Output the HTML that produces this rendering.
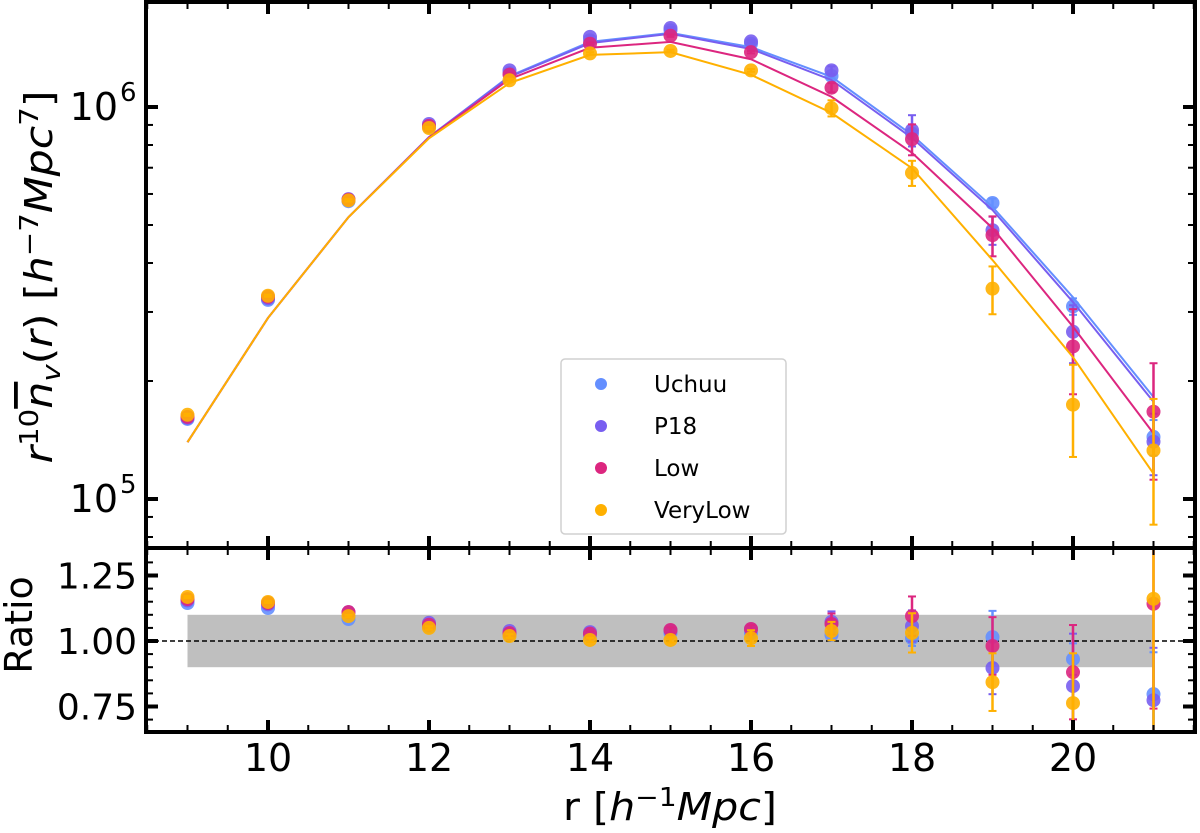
<!DOCTYPE html>
<html><head><meta charset="utf-8"><style>
html,body{margin:0;padding:0;background:#fff;}
svg{display:block;font-family:"DejaVu Sans","Liberation Sans",sans-serif;}
</style></head><body>
<svg id="chart" width="1200" height="833" viewBox="0 0 1200 833" xmlns="http://www.w3.org/2000/svg">
<defs>
<clipPath id="clipTop"><rect x="146" y="2" width="1049" height="546"/></clipPath>
<clipPath id="clipBot"><rect x="146" y="548" width="1049" height="184"/></clipPath>
</defs>
<g id="topPanel"></g>
<g id="botPanel"></g>
<g id="axes"></g>
<text transform="translate(52,277) rotate(-90)" text-anchor="middle" font-size="38" textLength="373" lengthAdjust="spacingAndGlyphs"><tspan font-style="italic">r</tspan><tspan font-size="26" dy="-14">10</tspan><tspan font-style="italic" dy="14" text-decoration="overline">n</tspan><tspan font-style="italic" font-size="26" dy="8">v</tspan><tspan dy="-8">(</tspan><tspan font-style="italic">r</tspan><tspan>) [</tspan><tspan font-style="italic">h</tspan><tspan font-size="26" dy="-14">−7</tspan><tspan font-style="italic" dy="14">Mpc</tspan><tspan font-size="26" dy="-14">7</tspan><tspan dy="14">]</tspan></text>
<text transform="translate(32,625) rotate(-90)" text-anchor="middle" font-size="38">Ratio</text>
<text x="670" y="820" text-anchor="middle" font-size="38" textLength="214" lengthAdjust="spacingAndGlyphs">r [<tspan font-style="italic">h</tspan><tspan font-size="26" dy="-14">−1</tspan><tspan font-style="italic" dy="14">Mpc</tspan>]</text>
<g>
<rect x="561" y="359" width="225" height="175" rx="4" fill="#fff" fill-opacity="0.8" stroke="#d0d0d0" stroke-width="1.5"/>
<circle cx="601" cy="384" r="6" fill="#648FFF"/>
<text x="654" y="392" font-size="23">Uchuu</text>
<circle cx="601" cy="426" r="6" fill="#785EF0"/>
<text x="654" y="434" font-size="23">P18</text>
<circle cx="601" cy="468" r="6" fill="#DC267F"/>
<text x="654" y="476" font-size="23">Low</text>
<circle cx="601" cy="510" r="6" fill="#FFB000"/>
<text x="654" y="518" font-size="23">VeryLow</text>
</g>
</svg>
<script>
const radii = [9,10,11,12,13,14,15,16,17,18,19,20,21];
const seriesNames = ['Uchuu','P18','Low','VeryLow'];
const seriesColors = ['#648FFF','#785EF0','#DC267F','#FFB000'];
const uchuuPts = [1.60e5,3.22e5,5.75e5,8.9e5,1.22e6,1.48e6,1.57e6,1.45e6,1.20e6,8.55e5,5.69e5,3.10e5,1.44e5];
const p18Pts   = [1.61e5,3.25e5,5.82e5,9.05e5,1.24e6,1.51e6,1.59e6,1.47e6,1.24e6,8.73e5,4.85e5,2.67e5,1.40e5];
const lowPts   = [1.62e5,3.28e5,5.80e5,8.95e5,1.21e6,1.45e6,1.52e6,1.38e6,1.12e6,8.28e5,4.71e5,2.45e5,1.67e5];
const vlowPts  = [1.64e5,3.30e5,5.78e5,8.84e5,1.17e6,1.37e6,1.39e6,1.24e6,9.93e5,6.79e5,3.44e5,1.74e5,1.33e5];
const uchuuErr = [1e3,2e3,4e3,6e3,1e4,1e4,1e4,1e4,1.5e4,2.5e4,1.5e4,1.5e4,1.5e4];
const p18Err   = [1e3,2e3,4e3,6e3,1e4,1e4,1e4,1e4,3e4,8e4,4e4,4.5e4,2.5e4];
const lowErr   = [1e3,2e3,4e3,6e3,1e4,1e4,1e4,1e4,3e4,7.5e4,5.5e4,6e4,5.5e4];
const vlowErr  = [1e3,2e3,4e3,6e3,1e4,1e4,1e4,1e4,4.7e4,5e4,4.8e4,4.6e4,4.7e4];
const uchuuLine = [1.396e5,2.897e5,5.236e5,8.375e5,1.199e6,1.466e6,1.545e6,1.422e6,1.194e6,8.49e5,5.56e5,3.27e5,1.82e5];
const p18Line   = [1.396e5,2.897e5,5.236e5,8.375e5,1.194e6,1.455e6,1.538e6,1.406e6,1.172e6,8.34e5,5.46e5,3.18e5,1.77e5];
const lowLine   = [1.396e5,2.897e5,5.236e5,8.36e5,1.178e6,1.416e6,1.466e6,1.324e6,1.062e6,7.64e5,4.91e5,2.75e5,1.47e5];
const vlowLine  = [1.396e5,2.897e5,5.236e5,8.32e5,1.151e6,1.358e6,1.380e6,1.208e6,9.66e5,6.98e5,4.07e5,2.30e5,1.16e5];
const uchuuRatio = [1.145,1.126,1.084,1.055,1.025,1.020,1.030,1.030,1.023,1.011,1.015,0.931,0.797];
const p18Ratio   = [1.155,1.140,1.110,1.069,1.038,1.034,1.040,1.045,1.073,1.057,0.897,0.828,0.774];
const lowRatio   = [1.160,1.145,1.110,1.062,1.030,1.028,1.042,1.046,1.065,1.095,0.981,0.881,1.142];
const vlowRatio  = [1.168,1.149,1.095,1.050,1.019,1.004,1.004,1.011,1.038,1.031,0.843,0.763,1.161];
const uchuuRatioErr = [0.004,0.004,0.005,0.006,0.007,0.008,0.01,0.01,0.02,0.03,0.10,0.06,0.16];
const p18RatioErr   = [0.004,0.004,0.005,0.006,0.007,0.008,0.01,0.01,0.04,0.06,0.10,0.20,0.20];
const lowRatioErr   = [0.004,0.004,0.005,0.006,0.007,0.008,0.01,0.015,0.04,0.075,0.11,0.18,0.40];
const vlowRatioErr  = [0.004,0.004,0.005,0.006,0.007,0.008,0.01,0.03,0.035,0.075,0.11,0.19,0.55];
const xTicks = [10,12,14,16,18,20];
const ratioTicks = [0.75,1.00,1.25];
const ratioTickLabels = ['0.75','1.00','1.25'];
const bandLow = 0.9, bandHigh = 1.1;

const NS='http://www.w3.org/2000/svg';
function X(v){return 268+(v-10)*80.5;}
function Y(v){return 107-392*(Math.log10(v)-6);}
function R(v){return 641-(v-1)*262;}
function mk(tag,attrs,parent){const e=document.createElementNS(NS,tag);for(const k in attrs)e.setAttribute(k,attrs[k]);parent.appendChild(e);return e;}

const topG=document.getElementById('topPanel');
const botG=document.getElementById('botPanel');
const axG=document.getElementById('axes');
const gT=mk('g',{'clip-path':'url(#clipTop)'},topG);
const gB=mk('g',{'clip-path':'url(#clipBot)'},botG);

const band=mk('rect',{x:X(radii[0]),y:R(bandHigh),width:X(radii[radii.length-1])-X(radii[0]),height:R(bandLow)-R(bandHigh),fill:'#bfbfbf'},gB);


const refLine=mk('line',{x1:146,x2:1195,y1:R(1),y2:R(1),stroke:'#000','stroke-width':1.5,'stroke-dasharray':'5,3'},gB);



const pts=[uchuuPts,p18Pts,lowPts,vlowPts];
const errs=[uchuuErr,p18Err,lowErr,vlowErr];
const lines=[uchuuLine,p18Line,lowLine,vlowLine];
const ratios=[uchuuRatio,p18Ratio,lowRatio,vlowRatio];
const rerrs=[uchuuRatioErr,p18RatioErr,lowRatioErr,vlowRatioErr];
const keys=['uchuu','p18','low','verylow'];

function errbar(g,x,y1,y2,c){
  mk('line',{x1:x,x2:x,y1:y1,y2:y2,stroke:c,'stroke-width':2.5},g);
  mk('line',{x1:x-4,x2:x+4,y1:y1,y2:y1,stroke:c,'stroke-width':2},g);
  mk('line',{x1:x-4,x2:x+4,y1:y2,y2:y2,stroke:c,'stroke-width':2},g);
}
for(let s=0;s<4;s++){
  const c=seriesColors[s];
  const sg=mk('g',{},gT);
  
  
  const ln=mk('polyline',{points:radii.map((r,i)=>X(r)+','+Y(lines[s][i])).join(' '),fill:'none',stroke:c,'stroke-width':2},sg);
  
  
  radii.forEach((r,i)=>{
    const v=pts[s][i],e=errs[s][i];
    errbar(sg,X(r),Y(v+e),Y(Math.max(v-e,1e3)),c);
    const p=mk('circle',{cx:X(r),cy:Y(v),r:7,fill:c,'fill-opacity':0.9},sg);
    
    
  });
  const rg=mk('g',{},gB);
  
  
  radii.forEach((r,i)=>{
    const v=ratios[s][i],e=rerrs[s][i];
    errbar(rg,X(r),R(v+e),R(v-e),c);
    const p=mk('circle',{cx:X(r),cy:R(v),r:7,fill:c,'fill-opacity':0.9},rg);
    
    
  });
}

mk('rect',{x:146,y:2,width:1049,height:546,fill:'none',stroke:'#000','stroke-width':4},axG);
mk('rect',{x:146,y:548,width:1049,height:184,fill:'none',stroke:'#000','stroke-width':4},axG);

const edges=[[2,1],[548,-1],[548,1],[732,-1]];
for(let v=8.5;v<=21.5;v+=0.5){
  const major=xTicks.includes(v);
  const L=major?12:7, w=major?4:2;
  edges.forEach(([y,d])=>mk('line',{x1:X(v),x2:X(v),y1:y,y2:y+d*L,stroke:'#000','stroke-width':w},axG));
}
xTicks.forEach(v=>{
  const t=mk('text',{x:X(v),y:771,'text-anchor':'middle','font-size':38},axG);
  t.textContent=String(v);
  
  
});
const logTicks=[];
[1e4,1e5,1e6].forEach(d=>{for(let m=1;m<10;m++)logTicks.push([m*d,m===1]);});
logTicks.forEach(([v,major])=>{
  const y=Y(v); if(y<4||y>546)return;
  const L=major?12:7,w=major?4:2;
  mk('line',{x1:146,x2:146+L,y1:y,y2:y,stroke:'#000','stroke-width':w},axG);
  mk('line',{x1:1195,x2:1195-L,y1:y,y2:y,stroke:'#000','stroke-width':w},axG);
});
[[1e5,'5'],[1e6,'6']].forEach(([v,ex])=>{
  const t=mk('text',{x:118,y:Y(v)+13,'text-anchor':'end','font-size':38},axG);
  t.textContent='10';
  
  
  const s=mk('text',{x:120,y:Y(v)-6,'font-size':26},axG);
  s.textContent=ex;
});
for(let k=13;k<=27;k++){
  const v=k*0.05; const y=R(v); if(y<550||y>730)continue;
  const major=Math.abs((v*4)-Math.round(v*4))<1e-6;
  const L=major?12:7,w=major?4:2;
  mk('line',{x1:146,x2:146+L,y1:y,y2:y,stroke:'#000','stroke-width':w},axG);
  mk('line',{x1:1195,x2:1195-L,y1:y,y2:y,stroke:'#000','stroke-width':w},axG);
}
ratioTicks.forEach((v,i)=>{
  const t=mk('text',{x:137,y:R(v)+13,'text-anchor':'end','font-size':36},axG);
  t.textContent=ratioTickLabels[i];
  
  
});
</script>
</body></html>
